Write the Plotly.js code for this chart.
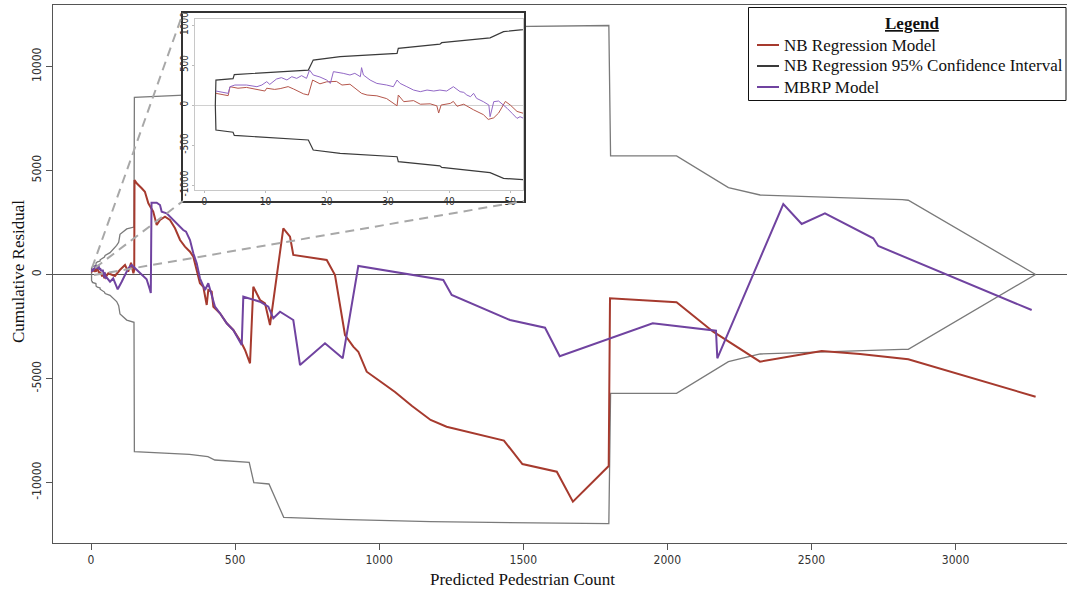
<!DOCTYPE html>
<html><head><meta charset="utf-8">
<script src="https://cdn.plot.ly/plotly-3.0.1.min.js"></script>
<style>html,body{margin:0;padding:0;background:#fff}#chart{width:1067px;height:591px}</style>
</head><body><div id="chart"></div>
<script>
// ---- data ----
const ciX = [1.8,1.9,4.7,4.9,17.0,17.8,22.2,31.5,31.7,38.5,38.8,46.7,48.9,52.2,66,89,96,100.6,124,149.2,150.5,341.8,405.6,429.6,549,565,617.6,668.7,859.5,1178.4,1465,1797,1803,2032,2212,2322,2815,2836,3278];
const ciUpper = [0,312,330,380,437,562,604,646,708,760,779,840,917,937,1050,1400,1550,1930,2190,2280,8520,8640,8760,8920,9030,10010,10070,11670,11770,11880,11930,11970,5700,5700,4180,3822,3600,3570,0];
const ciLower = [0,-312,-340,-380,-437,-562,-604,-646,-708,-760,-779,-845,-917,-937,-1000,-1300,-1500,-1900,-2190,-2300,-8520,-8644,-8760,-8918,-9030,-10010,-10072,-11673,-11769,-11885,-11933,-11981,-5712,-5712,-4192,-3822,-3596,-3596,0];

const nbX = [1.9,3.9,4.2,5.5,6.9,8.5,9.9,10.2,11.5,12.4,13.7,14.6,15.5,16.2,17.0,17.7,18.9,20.0,21.6,22.5,23.8,24.9,25.7,26.6,28.2,29.8,31.5,31.7,32.6,34.2,35.3,36.9,38.0,38.3,38.7,40.2,40.7,41.3,42.4,44.0,45.6,46.4,47.3,48.1,49.2,50.0,51.1,52.2,
  60,83,100,118,129,139,147,150,151,158.6,176,187,199,216,228,239.4,256.8,274,291.5,309,326,343.5,355,366.8,378,389.7,401.5,407,418.8,424.5,436,447.6,471,493.8,523,534.4,551.8,563.2,586.5,603.8,621.2,667.3,690.6,702,818,846.7,881.4,910.2,927.6,956.7,997,1055,1114,1178.5,1234,1433,1497,1616.4,1672.3,1796.5,1801,2032,2159,2321.5,2535.6,2668.5,2836,3278];
const nbY = [146,117,229,210,220,200,175,210,195,205,230,200,165,140,125,312,265,290,295,250,260,190,146,125,115,80,-10,125,42,55,10,15,-10,-100,0,20,45,-15,10,-60,-120,-180,-160,-100,45,0,-80,-105,
  58,-72,216,457,135,567,58,216,4543,4385,4144,3981,3423,3019,2380,2620,2779,2620,2221,1659,1337,1096,856,216,-423,-587,-1466,-745,-827,-1548,-1707,-1865,-2346,-2668,-3308,-3630,-4269,-587,-1226,-1385,-2428,2221,1817,938,697,-24,-2909,-3471,-3712,-4673,-5072,-5649,-6322,-6995,-7317,-7986,-9111,-9481,-10923,-9207,-1144,-1337,-2750,-4192,-3678,-3822,-4077,-5875];

const mbrpX = [1.9,3.9,4.2,5.0,6.9,8.6,9.4,10.2,10.7,11.8,12.6,13.5,14.3,15.1,15.9,16.7,17.2,17.8,18.9,20.0,20.6,21.1,22.7,23.8,24.6,25.5,25.7,26.0,27.1,28.2,29.8,30.9,31.5,32.0,33.1,34.2,35.3,36.4,37.5,38.5,39.6,40.7,41.8,42.4,42.9,43.5,44.0,44.5,45.6,46.5,46.7,47.3,48.1,48.9,49.5,50.3,51.1,51.6,52.2,
  54.5,66,77,92.6,106.5,118,129.4,141,152.7,170,193,204.7,207.5,210,228,239.4,245.3,262.7,274,291.5,309,320,329.7,343.5,355,366.8,378,395.6,407,418.8,430.3,447.6,471,493.8,523,528.5,586.5,615.3,632.6,655.9,702,725.3,812,873.4,927.6,1222.5,1251.7,1454,1575.5,1626.5,1949.2,2168.8,2173.4,2402.4,2466.2,2547,2714.7,2732,3264.3];
const mbrpY = [175,146,229,250,250,229,250,292,258,325,342,313,354,333,367,333,437,375,350,312,270,417,396,375,396,354,467,375,312,270,250,229,312,270,229,187,167,187,175,187,175,229,167,158,125,104,146,83,42,0,-146,42,50,0,-42,-104,-167,-146,-167,
  -150,-346,-183,-712,-346,-24,298,457,298,58,-231,-745,-890,3452,3452,3341,3019,2942,2779,2538,2298,2139,2058,1659,1019,538,-183,-745,-423,-986,-1548,-1865,-2346,-2668,-3389,-1067,-1308,-1548,-2106,-1788,-2188,-4351,-3308,-4029,409,-264,-986,-2188,-2557,-3933,-2346,-2702,-4029,3389,2428,2942,1740,1370,-1707];

const seriesNames = ['NB Regression Model','NB Regression 95% Confidence Interval','MBRP Model'];
const xTicks = [0,500,1000,1500,2000,2500,3000];
const xTickLabels = ['0','500','1000','1500','2000','2500','3000'];
const yTicks = [-10000,-5000,0,5000,10000];
const yTickLabels = ['-10000','-5000','0','5000','10000'];
const insetXTicks = [0,10,20,30,40,50];
const insetYTicks = [-1000,-500,0,500,1000];
const insetYTickLabels = ['-1000','-500','0','500','1000'];
const xTitle = 'Predicted Pedestrian Count';
const yTitle = 'Cumulative Residual';
const legendTitle = 'Legend';

// ---- styles ----
const RED = '#a63a2e', PURPLE = '#7043a0', GRAY = '#7a7a7a', CI_LEG = '#3a3a3a';
const RED_IN = '#b5564b', PURPLE_IN = '#9268c6', CI_IN = '#3a3a3a';
const SERIF = 'Liberation Serif, Times New Roman, serif';
const NARROW = 'Liberation Sans Narrow, Arial Narrow, DejaVu Sans Condensed, Liberation Sans, sans-serif';
const TXT = 17;

const traces = [
  {x: ciX, y: ciUpper, mode:'lines', name: seriesNames[1], showlegend:false, line:{color:GRAY, width:1.3}, hoverinfo:'skip'},
  {x: ciX, y: ciLower, mode:'lines', name: seriesNames[1], showlegend:false, line:{color:GRAY, width:1.3}, hoverinfo:'skip'},
  {x: nbX, y: nbY, mode:'lines', name: seriesNames[0], showlegend:false, line:{color:RED, width:2}, hoverinfo:'skip'},
  {x: mbrpX, y: mbrpY, mode:'lines', name: seriesNames[2], showlegend:false, line:{color:PURPLE, width:2}, hoverinfo:'skip'},
  // inset frame subplot (white cover)
  {x: [], y: [], xaxis:'x2', yaxis:'y2', mode:'lines', showlegend:false, hoverinfo:'skip'},
  // inset
  {x: ciX, y: ciUpper, xaxis:'x3', yaxis:'y3', mode:'lines', showlegend:false, line:{color:CI_IN, width:1.2}, hoverinfo:'skip'},
  {x: ciX, y: ciLower, xaxis:'x3', yaxis:'y3', mode:'lines', showlegend:false, line:{color:CI_IN, width:1.2}, hoverinfo:'skip'},
  {x: nbX, y: nbY, xaxis:'x3', yaxis:'y3', mode:'lines', showlegend:false, line:{color:RED_IN, width:1}, hoverinfo:'skip'},
  {x: mbrpX, y: mbrpY, xaxis:'x3', yaxis:'y3', mode:'lines', showlegend:false, line:{color:PURPLE_IN, width:1}, hoverinfo:'skip'}
];

// pixel helpers for decorative positions (plot area: x 53..1067, y 5..543)
const px = v => (v - 53) / 1014;
const py = v => (543 - v) / 538;

const dash = {color:'#a8a8a8', width:2, dash:'9px,6px'};
const legendColors = [RED, CI_LEG, PURPLE];
const legendRowsY = [45, 66, 87];

const shapes = [
  {type:'line', xref:'paper', yref:'paper', x0:px(92), y0:py(268), x1:px(183), y1:py(13), line:dash, layer:'above'},
  {type:'line', xref:'paper', yref:'paper', x0:px(95), y0:py(268), x1:px(183), y1:py(201), line:dash, layer:'above'},
  {type:'line', xref:'paper', yref:'paper', x0:px(94), y0:py(275), x1:px(524), y1:py(201), line:dash, layer:'above'},
  // legend box
  {type:'rect', xref:'paper', yref:'paper', x0:px(748.5), y0:py(7.5), x1:px(1066), y1:py(100.5),
   line:{color:'#111', width:1}, fillcolor:'#fff', layer:'above'}
];
const annotations = [
  {text:xTitle, xref:'paper', yref:'paper', x:px(522), y:py(579), xanchor:'center', yanchor:'middle', showarrow:false,
   font:{family:SERIF, size:TXT, color:'#111'}},
  {text:yTitle, xref:'paper', yref:'paper', x:px(18), y:py(272), xanchor:'center', yanchor:'middle', textangle:-90, showarrow:false,
   font:{family:SERIF, size:TXT, color:'#111'}},
  {text:'<b><u>'+legendTitle+'</u></b>', xref:'paper', yref:'paper', x:px(912), y:py(23), xanchor:'center', yanchor:'middle', showarrow:false,
   font:{family:SERIF, size:TXT, color:'#111'}}
];
seriesNames.forEach((nm, i) => {
  shapes.push({type:'line', xref:'paper', yref:'paper', x0:px(757), x1:px(779), y0:py(legendRowsY[i]), y1:py(legendRowsY[i]),
    line:{color:legendColors[i], width:2}, layer:'above'});
  annotations.push({text:nm, xref:'paper', yref:'paper', x:px(782), y:py(legendRowsY[i]), xanchor:'left', yanchor:'middle', showarrow:false,
    font:{family:SERIF, size:TXT, color:'#111'}});
});

const layout = {
  width:1067, height:591,
  margin:{l:53, r:0, t:5, b:48, pad:0},
  paper_bgcolor:'#fff', plot_bgcolor:'#fff',
  showlegend:false,
  xaxis:{domain:[0,1], range:[-131.9, 3386.9], tickvals:xTicks, ticktext:xTickLabels, ticks:'outside', ticklen:6,
    tickcolor:'#555', showline:true, mirror:true, linecolor:'#555', linewidth:1, showgrid:false, zeroline:false,
    tickfont:{family:NARROW, size:12, color:'#333'}, fixedrange:true},
  yaxis:{domain:[0,1], range:[-12909, 12957], tickvals:yTicks, ticktext:yTickLabels, tickangle:-90, ticks:'outside', ticklen:6,
    tickcolor:'#555', showline:true, linecolor:'#555', linewidth:1, showgrid:false, zeroline:true, zerolinecolor:'#555', zerolinewidth:1,
    tickfont:{family:NARROW, size:12, color:'#333'}, fixedrange:true},
  xaxis2:{domain:[px(183), px(524)], range:[0,1], anchor:'y2', showline:true, mirror:true, linecolor:'#333', linewidth:1.6,
    showticklabels:false, ticks:'', showgrid:false, zeroline:false, fixedrange:true},
  yaxis2:{domain:[py(201), py(13)], range:[0,1], anchor:'x2', showline:true, mirror:true, linecolor:'#333', linewidth:1.6,
    showticklabels:false, ticks:'', showgrid:false, zeroline:false, fixedrange:true},
  xaxis3:{domain:[px(195), px(523)], range:[-1.52, 52.08], anchor:'y3', tickvals:insetXTicks, ticks:'outside', ticklen:2,
    tickcolor:'#bbb', showline:true, mirror:true, linecolor:'#c8c8c8', linewidth:1, showgrid:false, zeroline:false,
    tickfont:{family:NARROW, size:10, color:'#333'}, fixedrange:true},
  yaxis3:{domain:[py(190), py(19)], range:[-1062, 1075], anchor:'x3', tickvals:insetYTicks, ticktext:insetYTickLabels, tickangle:-90,
    ticks:'outside', ticklen:2, tickcolor:'#bbb', showline:true, mirror:true, linecolor:'#c8c8c8', linewidth:1, showgrid:false,
    zeroline:true, zerolinecolor:'#d0d0d0', zerolinewidth:1, tickfont:{family:NARROW, size:10, color:'#333'}, fixedrange:true},
  shapes: shapes,
  annotations: annotations
};

Plotly.newPlot('chart', traces, layout, {displayModeBar:false, staticPlot:true});
</script>
</body></html>
